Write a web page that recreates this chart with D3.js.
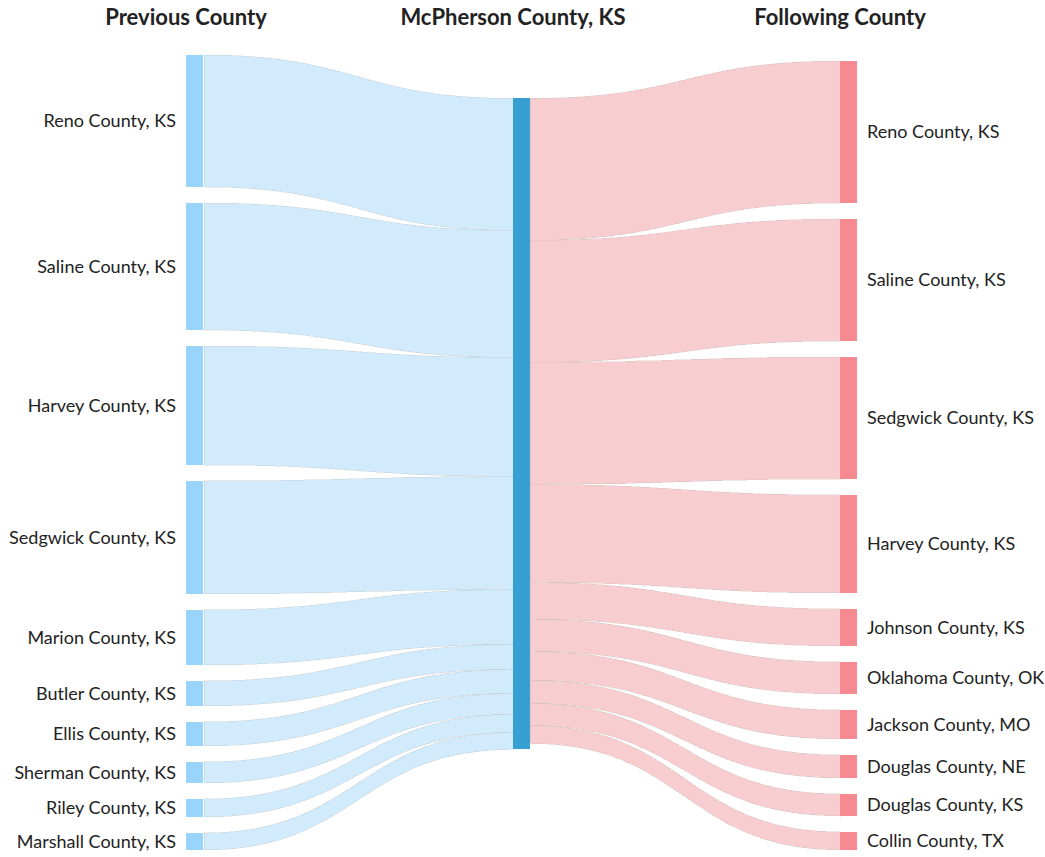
<!DOCTYPE html>
<html>
<head>
<meta charset="utf-8">
<script src="https://cdn.jsdelivr.net/npm/d3@7"></script>
<style>
  html, body { margin: 0; padding: 0; background: #fff; }
  svg { display: block; }
  text { font-family: Lato, "Open Sans", sans-serif; fill: #222; }
</style>
</head>
<body>
<svg id="chart" width="1045" height="857"></svg>
<script>
// ---- data ----
const columnTitles = ["Previous County", "McPherson County, KS", "Following County"];
const centerCounty = "McPherson County, KS";
const previousCounties = ["Reno County, KS", "Saline County, KS", "Harvey County, KS", "Sedgwick County, KS",
  "Marion County, KS", "Butler County, KS", "Ellis County, KS", "Sherman County, KS", "Riley County, KS", "Marshall County, KS"];
const previousValues = [132, 127, 119, 113, 55, 25, 24, 21, 18, 17];
const followingCounties = ["Reno County, KS", "Saline County, KS", "Sedgwick County, KS", "Harvey County, KS",
  "Johnson County, KS", "Oklahoma County, OK", "Jackson County, MO", "Douglas County, NE", "Douglas County, KS", "Collin County, TX"];
const followingValues = [142, 122, 122, 98, 37, 32, 29, 23, 22, 18];

// ---- layout settings ----
const W = 1045, H = 857;
const extentY = [55, 850];
const nodeWidth = 17, nodePadding = 16;
const colors = {
  prevNode: "#99d4fb", prevLink: "#d2ebfc",
  center: "#379fd3",
  nextNode: "#f78a91", nextLink: "#f8cdcf"
};

const svg = d3.select("#chart");

const xCol = d3.scalePoint().domain([0, 1, 2]).range([186, 840]);

const sumPrev = d3.sum(previousValues), sumNext = d3.sum(followingValues);
const centerValue = Math.max(sumPrev, sumNext);
const avail = extentY[1] - extentY[0];
const ky = Math.min(
  (avail - (previousValues.length - 1) * nodePadding) / sumPrev,
  (avail - (followingValues.length - 1) * nodePadding) / sumNext,
  avail / centerValue
);
const h = d3.scaleLinear().domain([0, 1]).range([0, ky]);

function stackColumn(names, values, start) {
  let y = start;
  return names.map((n, i) => {
    const node = { name: n, value: values[i], y0: y, y1: y + h(values[i]) };
    y = node.y1 + nodePadding;
    return node;
  });
}
const leftNodes = stackColumn(previousCounties, previousValues, extentY[0]);
const rightTotal = h(sumNext) + (followingValues.length - 1) * nodePadding;
const rightNodes = stackColumn(followingCounties, followingValues, extentY[1] - rightTotal);

// center node: value-weighted position that keeps links most horizontal
let acc = 0, wsum = 0, off = 0;
leftNodes.forEach(n => { acc += n.value * (n.y0 - off); wsum += n.value; off += h(n.value); });
off = 0;
rightNodes.forEach(n => { acc += n.value * (n.y0 - off); wsum += n.value; off += h(n.value); });
const cy0 = acc / wsum;
const centerNode = { name: centerCounty, y0: cy0, y1: cy0 + h(centerValue) };

function ribbon(sx, s0, s1, tx, t0, t1) {
  const p = d3.path();
  const mx = (sx + tx) / 2;
  p.moveTo(sx, s0);
  p.bezierCurveTo(mx, s0, mx, t0, tx, t0);
  p.lineTo(tx, t1);
  p.bezierCurveTo(mx, t1, mx, s1, sx, s1);
  p.closePath();
  return p.toString();
}

const xL = xCol(0), xC = xCol(1), xR = xCol(2);
const linkG = svg.append("g").attr("shape-rendering", "crispEdges");

let cOff = centerNode.y0;
leftNodes.forEach(n => {
  const t0 = cOff, t1 = cOff + h(n.value);
  cOff = t1;
  linkG.append("path")
    .attr("d", ribbon(xL + nodeWidth + 1, n.y0, n.y1, xC, t0, t1))
    .attr("fill", colors.prevLink)
    .attr("stroke", "#bbb").attr("stroke-opacity", 0.3).attr("stroke-width", 1);
});
cOff = centerNode.y0;
rightNodes.forEach(n => {
  const s0 = cOff, s1 = cOff + h(n.value);
  cOff = s1;
  linkG.append("path")
    .attr("d", ribbon(xC + nodeWidth, s0, s1, xR, n.y0, n.y1))
    .attr("fill", colors.nextLink)
    .attr("stroke", "#bbb").attr("stroke-opacity", 0.3).attr("stroke-width", 1);
});

const nodeG = svg.append("g").attr("shape-rendering", "crispEdges");
nodeG.selectAll("rect.prev").data(leftNodes).join("rect")
  .attr("class", "prev")
  .attr("x", xL).attr("y", d => d.y0).attr("width", nodeWidth).attr("height", d => d.y1 - d.y0)
  .attr("fill", colors.prevNode);
nodeG.selectAll("rect.next").data(rightNodes).join("rect")
  .attr("class", "next")
  .attr("x", xR).attr("y", d => d.y0).attr("width", nodeWidth).attr("height", d => d.y1 - d.y0)
  .attr("fill", colors.nextNode);
nodeG.append("rect")
  .attr("x", xC).attr("y", centerNode.y0).attr("width", nodeWidth).attr("height", centerNode.y1 - centerNode.y0)
  .attr("fill", colors.center);

const labelG = svg.append("g").style("font-size", "18px");
labelG.selectAll("text.prev").data(leftNodes).join("text")
  .attr("class", "prev")
  .attr("x", xL - 10).attr("y", d => (d.y0 + d.y1) / 2).attr("dy", "0.35em")
  .attr("text-anchor", "end").text(d => d.name);
labelG.selectAll("text.next").data(rightNodes).join("text")
  .attr("class", "next")
  .attr("x", xR + nodeWidth + 10).attr("y", d => (d.y0 + d.y1) / 2).attr("dy", "0.35em")
  .attr("text-anchor", "start").text(d => d.name);

svg.append("g").selectAll("text").data(columnTitles).join("text")
  .attr("x", (d, i) => xCol(i)).attr("y", 25)
  .attr("text-anchor", "middle")
  .style("font-size", "22px").style("font-weight", "bold")
  .text(d => d);
</script>
</body>
</html>
